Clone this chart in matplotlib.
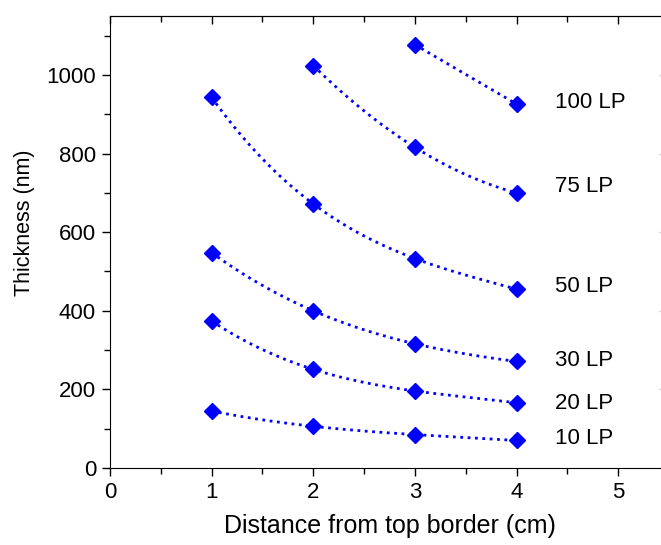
import numpy as np
import matplotlib.pyplot as plt
from matplotlib.ticker import MultipleLocator

plt.rcParams['font.family'] = ['Liberation Sans', 'DejaVu Sans']

# thickness (nm) vs distance from top border (cm), one list per number of layer pairs
x_10 = [1, 2, 3, 4]
y_10 = [145, 106, 85, 70]
x_20 = [1, 2, 3, 4]
y_20 = [374, 251, 196, 166]
x_30 = [1, 2, 3, 4]
y_30 = [548, 400, 316, 271]
x_50 = [1, 2, 3, 4]
y_50 = [943, 672, 533, 455]
x_75 = [2, 3, 4]
y_75 = [1024, 816, 700]
x_100 = [3, 4]
y_100 = [1077, 926]

series = [
    ('10 LP', x_10, y_10),
    ('20 LP', x_20, y_20),
    ('30 LP', x_30, y_30),
    ('50 LP', x_50, y_50),
    ('75 LP', x_75, y_75),
    ('100 LP', x_100, y_100),
]
# vertical offset of each label from the last point (nm)
label_shift = {'10 LP': 4, '20 LP': -3, '30 LP': 2, '50 LP': 7, '75 LP': 17, '100 LP': 5}

fig = plt.figure(figsize=(6.61, 5.45), dpi=100)
# the right spine sits just outside the saved picture (x range 0..5.5)
ax = fig.add_axes([0.1664, 0.1413, 0.8457, 0.8293])

for name, xs, ys in series:
    xs = np.array(xs, dtype=float)
    ys = np.array(ys, dtype=float)
    # smooth line through the points (exact polynomial through them)
    coef = np.polyfit(xs, ys, len(xs) - 1)
    xx = np.linspace(xs[0], xs[-1], 200)
    ax.plot(xx, np.polyval(coef, xx), ls=':', color='#0000ff', lw=2)
    ax.plot(xs, ys, ls='none', marker='D', color='#0000ff', ms=8)
    ax.text(4.38, ys[-1] + label_shift[name], name, fontsize=16, va='center', ha='left')

ax.set_xlim(0, 5.5)
ax.set_ylim(0, 1150)
ax.xaxis.set_major_locator(MultipleLocator(1))
ax.xaxis.set_minor_locator(MultipleLocator(0.5))
ax.yaxis.set_major_locator(MultipleLocator(200))
ax.yaxis.set_minor_locator(MultipleLocator(100))
ax.tick_params(which='both', direction='out', labelsize=16, width=1)
ax.tick_params(which='major', length=6, pad=4)
ax.tick_params(which='minor', length=4)

# mirrored ticks on top and right, pointing inward
top = ax.secondary_xaxis('top')
top.xaxis.set_major_locator(MultipleLocator(1))
top.xaxis.set_minor_locator(MultipleLocator(0.5))
top.tick_params(which='both', direction='in', labeltop=False, width=1)
top.tick_params(which='major', length=6)
top.tick_params(which='minor', length=4)
right = ax.secondary_yaxis('right')
right.yaxis.set_major_locator(MultipleLocator(200))
right.yaxis.set_minor_locator(MultipleLocator(100))
right.tick_params(which='both', direction='in', labelright=False, width=1, color='#cccccc')
right.tick_params(which='major', length=7)
right.tick_params(which='minor', length=0)

ax.set_xlabel('Distance from top border (cm)', fontsize=18, labelpad=8)
ax.set_ylabel('Thickness (nm)', fontsize=15.5)
ax.yaxis.set_label_coords(-0.135, 0.542)

fig.savefig('out.png', dpi=100)
